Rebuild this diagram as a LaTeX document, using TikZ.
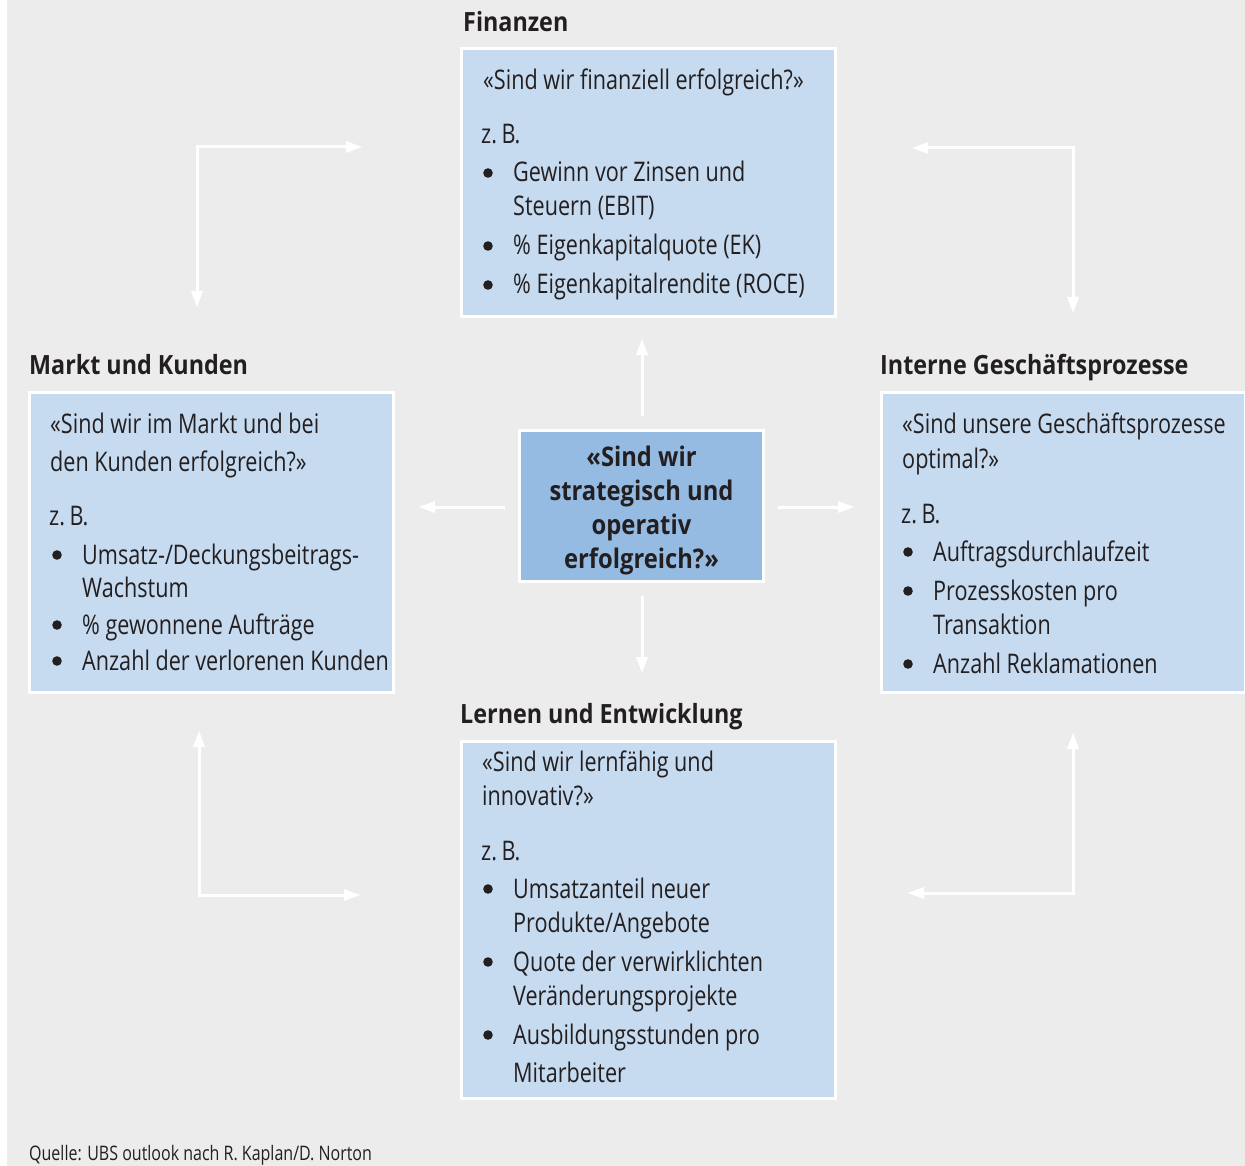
\documentclass[tikz,border=0pt]{standalone}
\usepackage{fontspec}
\setmainfont{Open Sans}[FakeStretch=0.8, BoldFeatures={FakeStretch=0.88}]
\usetikzlibrary{arrows.meta}
\definecolor{bg}{HTML}{ECECEC}
\definecolor{boxblue}{HTML}{C6DAF0}
\definecolor{midblue}{HTML}{95BBE3}
\definecolor{ink}{HTML}{231F20}
\tikzset{
  wt/.tip={Triangle[length=16pt,width=12pt,line width=0pt]},
  panel/.style={rectangle, fill=boxblue, draw=white, line width=3pt, inner sep=0pt, anchor=north west},
  core/.style={rectangle, fill=midblue, draw=white, line width=3pt, inner sep=0pt},
  coretxt/.style={inner sep=0pt, text=ink, align=center, font=\fontsize{27}{34}\selectfont\bfseries},
  txt/.style={anchor=base west, inner sep=0pt, text=ink, font=\fontsize{27}{32}\selectfont},
  ttl/.style={anchor=base west, inner sep=0pt, text=ink, font=\fontsize{26.5}{30}\selectfont\bfseries},
  note/.style={anchor=base west, inner sep=0pt, text=ink, font=\fontsize{20}{24}\selectfont},
  flow/.style={draw=white, line width=3pt, wt-wt},
  oneway/.style={draw=white, line width=3pt, -wt},
}
\newcommand\myline[4]{\node[txt] (#1) at (#2,#3) {#4};}
\newcommand\mybul[4]{\fill[ink] (#2-25,#3-9) circle (4.8pt); \node[txt] (#1) at (#2,#3) {#4};}
\begin{document}
\begin{tikzpicture}[x=1pt,y=-1pt]
\useasboundingbox (0,0) rectangle (1245,1166);
\fill[white] (0,0) rectangle (1245,1166);
\fill[bg] (7,0) rectangle (1245,1166);

% panels
\node[panel, minimum width=374pt, minimum height=268pt] (fin) at (459.5,47.5) {};
\node[panel, minimum width=364pt, minimum height=300pt] (mkt) at (27.5,390.5) {};
\node[panel, minimum width=364pt, minimum height=300pt] (proc) at (879.5,390.5) {};
\node[panel, minimum width=374pt, minimum height=357pt] (learn) at (459.5,739.5) {};
\node[core, minimum width=244pt, minimum height=151pt] (center) at (641.5,506) {};
\node[coretxt] (centertxt) at (641.5,510) {«Sind wir\\strategisch und\\operativ\\erfolgreich?»};

% titles
\node[ttl] (tfin) at (463,32) {Finanzen};
\node[ttl] (tmkt) at (29,374) {Markt und Kunden};
\node[ttl] (tproc) at (880,374) {Interne Geschäftsprozesse};
\node[ttl] (tlearn) at (460,723) {Lernen und Entwicklung};

% Finanzen
\myline{f1}{483}{90}{«Sind wir finanziell erfolgreich?»}
\myline{f2}{481}{144}{z.\,B.}
\mybul{f3}{513}{182}{Gewinn vor Zinsen und}
\myline{f4}{513}{216}{Steuern (EBIT)}
\mybul{f5}{513}{255}{\% Eigenkapitalquote (EK)}
\mybul{f6}{513}{294}{\% Eigenkapitalrendite (ROCE)}

% Markt und Kunden
\myline{m1}{50}{433}{«Sind wir im Markt und bei}
\myline{m2}{50}{471}{den Kunden erfolgreich?»}
\myline{m3}{49}{525}{z.\,B.}
\mybul{m4}{82}{564}{Umsatz-/Deckungsbeitrags-}
\myline{m5}{82}{597}{Wachstum}
\mybul{m6}{82}{634}{\% gewonnene Aufträge}
\mybul{m7}{82}{670}{Anzahl der verlorenen Kunden}

% Interne Geschaeftsprozesse
\myline{p1}{902}{433}{«Sind unsere Geschäftsprozesse}
\myline{p2}{902}{468}{optimal?»}
\myline{p3}{901}{523}{z.\,B.}
\mybul{p4}{933}{561}{Auftragsdurchlaufzeit}
\mybul{p5}{933}{600}{Prozesskosten pro}
\myline{p6}{933}{634}{Transaktion}
\mybul{p7}{933}{673}{Anzahl Reklamationen}

% Lernen und Entwicklung
\myline{l1}{482}{771}{«Sind wir lernfähig und}
\myline{l2}{482}{805}{innovativ?»}
\myline{l3}{481}{860}{z.\,B.}
\mybul{l4}{513}{898}{Umsatzanteil neuer}
\myline{l5}{513}{932}{Produkte/Angebote}
\mybul{l6}{513}{971}{Quote der verwirklichten}
\myline{l7}{513}{1005}{Veränderungsprojekte}
\mybul{l8}{513}{1044}{Ausbildungsstunden pro}
\myline{l9}{513}{1082}{Mitarbeiter}

% footer
\node[note] (src) at (29,1160) {Quelle: UBS outlook nach R. Kaplan/D. Norton};

% arrow end points
\coordinate (upS) at (642,416);  \coordinate (upE) at (642,339);
\coordinate (dnS) at (642,596);  \coordinate (dnE) at (642,673);
\coordinate (lfS) at (505,507);  \coordinate (lfE) at (419,507);
\coordinate (rtS) at (778,507);  \coordinate (rtE) at (854,507);
\coordinate (tlA) at (362,147);  \coordinate (tlB) at (197,307);
\coordinate (trA) at (912,148);  \coordinate (trB) at (1073,313);
\coordinate (blA) at (360,895);  \coordinate (blB) at (199,731);
\coordinate (brA) at (908,893);  \coordinate (brB) at (1073,733);

\draw[oneway] (upS) -- (upE);
\draw[oneway] (dnS) -- (dnE);
\draw[oneway] (lfS) -- (lfE);
\draw[oneway] (rtS) -- (rtE);
\draw[flow] (tlA) -| (tlB);
\draw[flow] (trA) -| (trB);
\draw[flow] (blA) -| (blB);
\draw[flow] (brA) -| (brB);
\end{tikzpicture}
\end{document}
